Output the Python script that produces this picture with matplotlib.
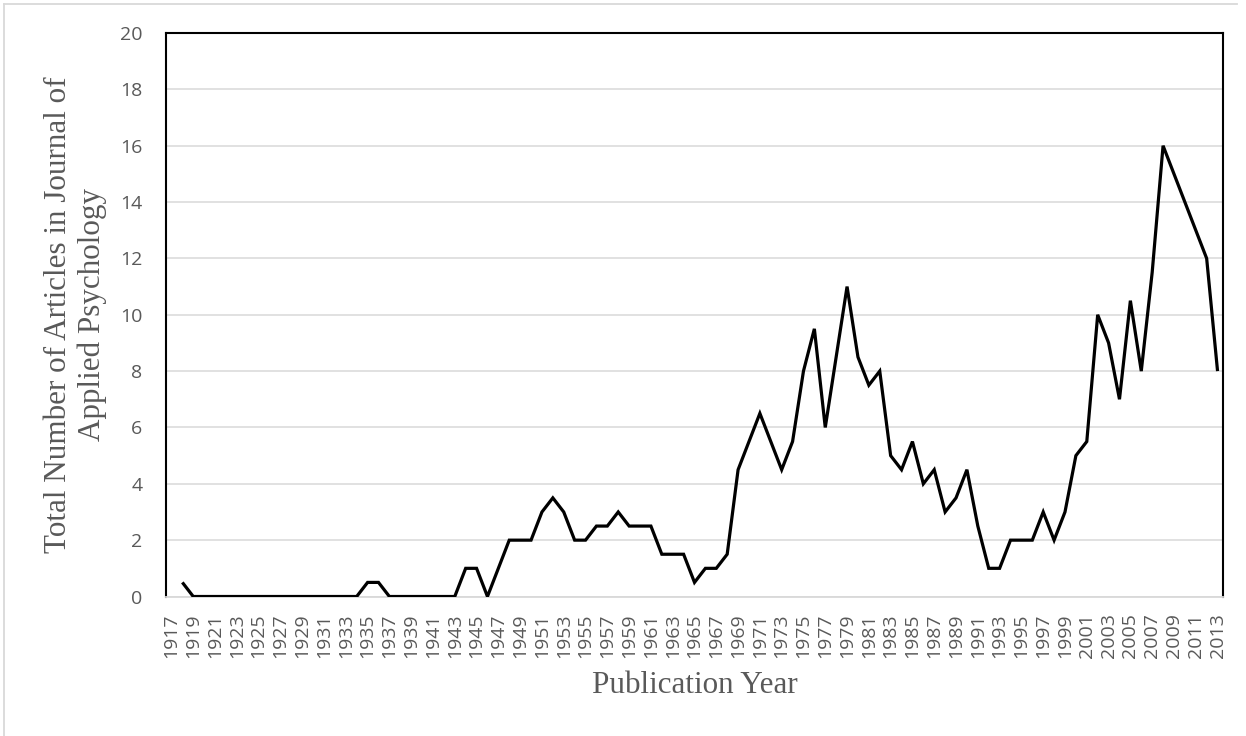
import numpy as np
import matplotlib
matplotlib.use("Agg")
import matplotlib.pyplot as plt
from matplotlib.lines import Line2D

# ---- data ----
years = list(range(1917, 2014))
articles = [
    np.nan, 0.5,                                   # 1917-1918
    0, 0, 0, 0, 0, 0, 0, 0, 0, 0, 0, 0, 0, 0, 0, 0,  # 1919-1934
    0.5, 0.5,                                      # 1935-1936
    0, 0, 0, 0, 0, 0, 0,                           # 1937-1943
    1, 1, 0, 1, 2, 2, 2,                           # 1944-1950
    3, 3.5, 3, 2, 2, 2.5, 2.5, 3, 2.5, 2.5,        # 1951-1960
    2.5, 1.5, 1.5, 1.5, 0.5, 1, 1, 1.5, 4.5, 5.5,  # 1961-1970
    6.5, 5.5, 4.5, 5.5, 8, 9.5, 6, 8.5, 11, 8.5,   # 1971-1980
    7.5, 8, 5, 4.5, 5.5, 4, 4.5, 3, 3.5, 4.5,      # 1981-1990
    2.5, 1, 1, 2, 2, 2, 3, 2, 3, 5,                # 1991-2000
    5.5, 10, 9, 7, 10.5, 8, 11.5, 16, 15, 14,      # 2001-2010
    13, 12, 8,                                     # 2011-2013
]
y_ticks = list(range(0, 21, 2))
x_label = "Publication Year"
y_label = "Total Number of Articles in Journal of\nApplied Psychology"

W, H = 1246, 736
fig = plt.figure(figsize=(W / 100, H / 100), dpi=100)
fig.patch.set_facecolor("white")

L, R, T, B = 166, 1223, 33, 596.5
ax = fig.add_axes([L / W, 1 - B / H, (R - L) / W, (B - T) / H])

pos = np.arange(len(years))
ax.plot(pos, articles, color="black", lw=2.3, solid_joinstyle="miter",
        solid_capstyle="butt", zorder=3)

ax.set_xlim(-0.5, len(years) - 0.5)
ax.set_ylim(0, 20)
ax.set_yticks(y_ticks)
ax.set_yticklabels([str(v) for v in y_ticks])
ax.set_xticks(pos[::2])
ax.set_xticklabels([str(y) for y in years[::2]], rotation=90)

tick_font = dict(family=["Open Sans", "DejaVu Sans"], size=14, color="#595959")
for lab in ax.get_xticklabels() + ax.get_yticklabels():
    lab.set_fontfamily(tick_font["family"])
    lab.set_fontsize(tick_font["size"])
    lab.set_color(tick_font["color"])

ax.tick_params(axis="both", length=0)
ax.tick_params(axis="y", pad=17)
ax.tick_params(axis="x", pad=12)

ax.grid(axis="y", color="#d9d9d9", lw=1.1, zorder=0)
ax.set_axisbelow(True)

for side in ["left", "top", "right"]:
    ax.spines[side].set_color("black")
    ax.spines[side].set_linewidth(1.5)
ax.spines["bottom"].set_color("#d9d9d9")
ax.spines["bottom"].set_linewidth(1.3)

serif = ["Liberation Serif", "DejaVu Serif"]
ax.set_ylabel(y_label, family=serif, fontsize=22.4, color="#595959",
              linespacing=1.18)
ax.yaxis.set_label_coords(-0.056, 0.5)
ax.set_xlabel(x_label, family=serif, fontsize=22.4, color="#595959")
ax.xaxis.set_label_coords(0.5, -0.133)

# chart-area border (light gray)
fig.add_artist(Line2D([4 / W, 4 / W], [0, 1 - 4 / H], transform=fig.transFigure,
                      color="#d9d9d9", lw=1.3))
fig.add_artist(Line2D([4 / W, 1237 / W], [1 - 4 / H, 1 - 4 / H],
                      transform=fig.transFigure, color="#d9d9d9", lw=1.3))

fig.savefig("out.png", dpi=100, facecolor="white")
